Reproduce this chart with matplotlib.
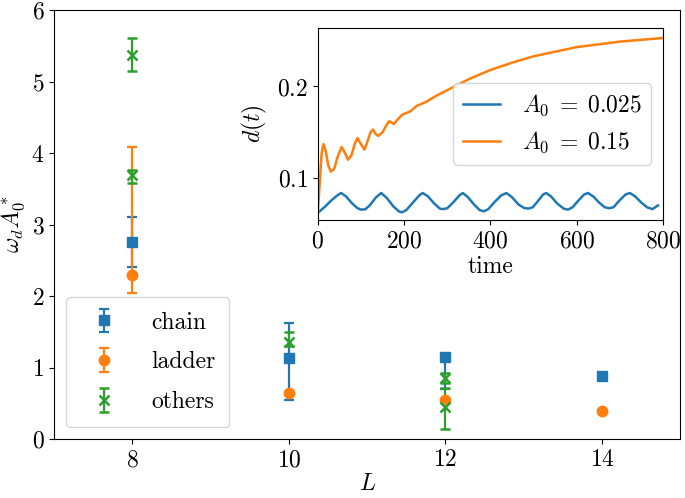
import matplotlib
matplotlib.use("Agg")
import matplotlib.pyplot as plt

plt.rcParams["font.family"] = "serif"
plt.rcParams["font.serif"] = ["cmr10", "DejaVu Serif"]
plt.rcParams["mathtext.fontset"] = "cm"
plt.rcParams["axes.formatter.use_mathtext"] = True
plt.rcParams["font.size"] = 17

# main panel: omega_d A0* vs L
L_chain = [8, 10, 12, 14]
chain = [2.76, 1.13, 1.15, 0.89]
chain_lo = [0.35, 0.58, 0.45, 0.0]
chain_hi = [0.35, 0.49, 0.0, 0.0]

L_ladder = [8, 10, 12, 14]
ladder = [2.30, 0.65, 0.55, 0.40]
ladder_lo = [0.26, 0.0, 0.0, 0.0]
ladder_hi = [1.79, 0.0, 0.0, 0.0]

L_others = [8, 8, 10, 12, 12]
others = [5.37, 3.69, 1.36, 0.85, 0.45]
others_lo = [0.23, 0.11, 0.05, 0.06, 0.30]
others_hi = [0.24, 0.07, 0.14, 0.07, 0.27]

# inset: d(t)
t_small = [0, 15, 30, 45, 54, 65, 80, 92, 100, 110, 120, 135, 147, 160, 175, 188,
           195, 205, 220, 235, 243, 255, 270, 283, 290, 300, 315, 328, 336, 348,
           362, 375, 385, 395, 410, 425, 437, 450, 465, 478, 488, 498, 512, 522,
           529, 540, 555, 570, 580, 590, 605, 617, 626, 638, 652, 665, 675, 685,
           700, 713, 723, 735, 750, 763, 775, 788]
d_small = [0.062, 0.068, 0.075, 0.081, 0.0836, 0.080, 0.072, 0.067, 0.0655, 0.0658,
           0.070, 0.079, 0.0836, 0.078, 0.069, 0.0635, 0.0625, 0.065, 0.073, 0.081,
           0.0836, 0.080, 0.072, 0.0665, 0.066, 0.067, 0.074, 0.081, 0.0836, 0.079,
           0.071, 0.065, 0.0636, 0.066, 0.074, 0.081, 0.0836, 0.079, 0.071, 0.0672,
           0.0666, 0.068, 0.076, 0.082, 0.0836, 0.080, 0.072, 0.0665, 0.0655, 0.068,
           0.076, 0.082, 0.0836, 0.080, 0.073, 0.068, 0.067, 0.068, 0.076, 0.082,
           0.0836, 0.080, 0.073, 0.068, 0.066, 0.070]

t_big = [0, 5, 9, 13, 18, 24, 30, 38, 45, 55, 62, 70, 78, 86, 92, 100, 108, 115,
         122, 128, 134, 140, 150, 158, 165, 170, 176, 185, 195, 205, 215, 222, 230,
         240, 250, 275, 300, 350, 400, 450, 500, 550, 600, 650, 700, 750, 800]
d_big = [0.062, 0.100, 0.128, 0.137, 0.130, 0.114, 0.107, 0.110, 0.122, 0.134,
         0.128, 0.120, 0.125, 0.138, 0.1436, 0.137, 0.131, 0.140, 0.150, 0.153,
         0.148, 0.146, 0.150, 0.157, 0.162, 0.161, 0.159, 0.164, 0.169, 0.171,
         0.173, 0.176, 0.179, 0.181, 0.183, 0.190, 0.196, 0.208, 0.218, 0.226,
         0.233, 0.238, 0.243, 0.246, 0.249, 0.251, 0.253]

fig = plt.figure(figsize=(6.85, 4.98), dpi=100)
ax = fig.add_axes([0.079, 0.118, 0.914, 0.862])

ax.errorbar(L_chain, chain, yerr=[chain_lo, chain_hi], fmt="s", color="#1f77b4",
            ms=7, elinewidth=1.6, capsize=3.5, capthick=1.6, label="chain")
ax.errorbar(L_ladder, ladder, yerr=[ladder_lo, ladder_hi], fmt="o", color="#ff7f0e",
            ms=7.5, elinewidth=1.6, capsize=3.5, capthick=1.6, label="ladder")
ax.errorbar(L_others, others, yerr=[others_lo, others_hi], fmt="x", color="#2ca02c",
            ms=7, mew=1.8, elinewidth=1.6, capsize=3.5, capthick=1.6, label="others")

ax.set_xlim(7, 15)
ax.set_ylim(0, 6)
ax.set_xticks([8, 10, 12, 14])
ax.set_yticks([0, 1, 2, 3, 4, 5, 6])
ax.set_xlabel(r"$L$", labelpad=1)
ax.set_ylabel(r"$\omega_d A_0^*$", labelpad=3)
ax.legend(loc="lower left", labelspacing=0.75, handletextpad=1.0,
          borderpad=0.6, handlelength=2.0)

ins = fig.add_axes([0.464, 0.558, 0.504, 0.386])
ins.plot(t_small, d_small, color="#1f77b4", lw=1.8, label=r"$A_0\;=\;0.025$")
ins.plot(t_big, d_big, color="#ff7f0e", lw=1.8, label=r"$A_0\;=\;0.15$")
ins.set_xlim(0, 800)
ins.set_ylim(0.054, 0.264)
ins.set_xticks([0, 200, 400, 600, 800])
ins.set_yticks([0.1, 0.2])
ins.tick_params(axis="x", pad=4)
ins.set_xlabel("time", labelpad=2)
ins.set_ylabel(r"$d(t)$", labelpad=6)
ins.legend(loc="center right", handlelength=1.6, handletextpad=0.9)

fig.savefig("out.png", dpi=100)
